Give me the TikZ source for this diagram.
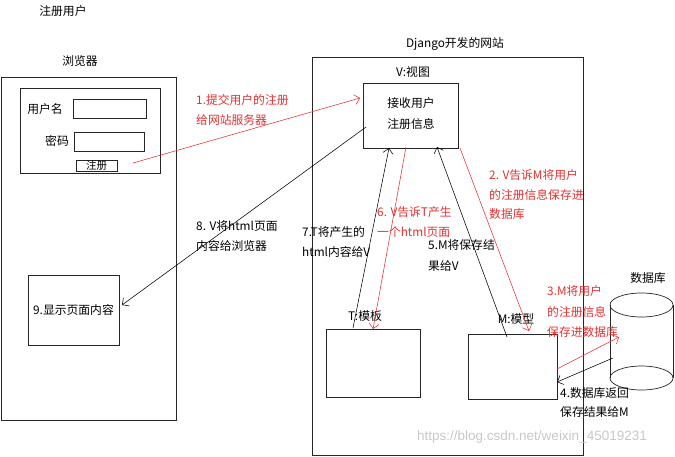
\documentclass[tikz,border=0pt]{standalone}
\usepackage{fontspec}
\setmainfont{Noto Sans CJK SC}
\newfontfamily\wmfont{Liberation Sans}
\usetikzlibrary{arrows.meta}
\definecolor{myred}{RGB}{228,48,48}
\begin{document}
\begin{tikzpicture}[x=1pt,y=-1pt,
  box/.style={draw=black!85, line width=0.7pt, inner sep=0pt, outer sep=0pt},
  txt/.style={inner sep=0pt, font=\fontsize{11.8}{13}\selectfont},
  lbl/.style={txt, anchor=west},
  rlbl/.style={lbl, text=myred},
  conn/.style={line width=0.55pt, -{Straight Barb[length=5pt,width=10pt]}},
  rconn/.style={conn, draw=myred},
]
\useasboundingbox (0,0) rectangle (675,456);

% titles
\node[txt] (t0) at (63,11) {注册用户};
\node[txt] (t1) at (80,61) {浏览器};
\node[txt] (t2) at (455,44) {Django开发的网站};

% browser
\node[box, minimum width=175pt, minimum height=343pt] (browser) at (88.5,248.5) {};
\node[box, minimum width=140pt, minimum height=85pt] (form) at (90,130.5) {};
\node[txt] (uname) at (45,109) {用户名};
\node[box, minimum width=73pt, minimum height=19pt] (in1) at (109.5,108.5) {};
\node[txt] (pwd) at (57,141) {密码};
\node[box, minimum width=70pt, minimum height=19pt] (in2) at (109,141.5) {};
\node[box, minimum width=41pt, minimum height=11pt, font=\fontsize{10.5}{11}\selectfont] (btn) at (96.5,165.5) {注册};
\node[box, minimum width=91pt, minimum height=70pt, font=\fontsize{11.8}{13}\selectfont] (show) at (73.5,310) {9.显示页面内容};

% django site
\node[box, minimum width=271pt, minimum height=398pt] (site) at (447.5,256) {};
\node[txt] (vt) at (413,72) {V:视图};
\node[box, minimum width=95pt, minimum height=65pt] (vbox) at (410.5,115.5) {};
\node[txt] (v1) at (411,103) {接收用户};
\node[txt] (v2) at (411,124) {注册信息};
\node[txt] (tt) at (365,316) {T:模板};
\node[box, minimum width=94pt, minimum height=68pt] (tbox) at (373,363) {};
\node[txt] (mt) at (516,319) {M:模型};
\node[box, minimum width=89pt, minimum height=65pt] (mbox) at (512.5,366.5) {};

% database
\node[txt] (dbt) at (648,278) {数据库};
\draw[line width=0.7pt, draw=black!85] (641.5,305) ellipse [x radius=31.5, y radius=12];
\draw[line width=0.7pt, draw=black!85] (641.5,378) ellipse [x radius=31.5, y radius=12];
\draw[line width=0.7pt, draw=black!85] (610,305) -- (610,378) (673,305) -- (673,378);

% connector end points
\coordinate (a1s) at (133,163); \coordinate (a1e) at (360,98);
\coordinate (a8s) at (366,127); \coordinate (a8e) at (122,305);
\coordinate (a7s) at (353,328); \coordinate (a7e) at (389,148);
\coordinate (a6s) at (406,147); \coordinate (a6e) at (373,329);
\coordinate (a5s) at (507,337); \coordinate (a5e) at (437,147);
\coordinate (a2s) at (460,148); \coordinate (a2e) at (529,331);
\coordinate (a3s) at (557,369); \coordinate (a3e) at (619,337);
\coordinate (a4s) at (613,358); \coordinate (a4e) at (557,382);

\draw[rconn] (a1s) -- (a1e);
\draw[conn] (a8s) -- (a8e);
\draw[conn] (a7s) -- (a7e);
\draw[rconn] (a6s) -- (a6e);
\draw[conn] (a5s) -- (a5e);
\draw[rconn] (a2s) -- (a2e);
\draw[rconn] (a3s) -- (a3e);
\draw[conn] (a4s) -- (a4e);

% labels
\node[rlbl] (l1a) at (196,100) {1.提交用户的注册};
\node[rlbl] (l1b) at (196,120) {给网站服务器};
\node[lbl] (l8a) at (196,226) {8. V将html页面};
\node[lbl] (l8b) at (196,246) {内容给浏览器};
\node[rlbl] (l2a) at (489,175) {2. V告诉M将用户};
\node[rlbl] (l2b) at (489,195) {的注册信息保存进};
\node[rlbl] (l2c) at (489,214) {数据库};
\node[rlbl] (l6a) at (377,212) {6. V告诉T产生};
\node[rlbl] (l6b) at (377,232) {一个html页面};
\node[lbl] (l7a) at (302,232) {7.T将产生的};
\node[lbl] (l7b) at (302,252) {html内容给V};
\node[lbl] (l5a) at (428,245) {5.M将保存结};
\node[lbl] (l5b) at (428,266) {果给V};
\node[rlbl] (l3a) at (547,291) {3.M将用户};
\node[rlbl] (l3b) at (547,312) {的注册信息};
\node[rlbl] (l3c) at (547,332) {保存进数据库};
\node[lbl] (l4a) at (560,393) {4.数据库返回};
\node[lbl] (l4b) at (560,412) {保存结果给M};

% watermark
\node[inner sep=0pt, text=black!22, font=\wmfont\fontsize{13.5}{15}\selectfont] (wm) at (532,437) {https://blog.csdn.net/weixin\_45019231};
\end{tikzpicture}
\end{document}
